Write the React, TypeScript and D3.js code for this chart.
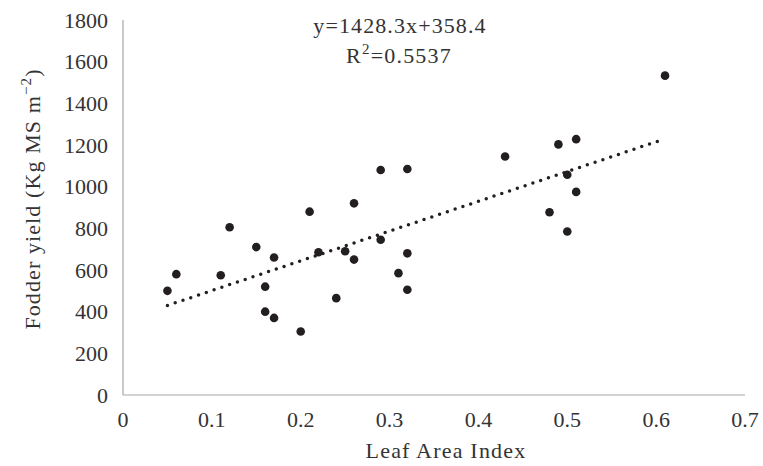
import React from 'react';
import * as d3 from 'd3';

// leaf area index (x) and fodder yield (y)
const lai = [
  0.05, 0.06, 0.11, 0.12, 0.15, 0.16, 0.16, 0.17, 0.17, 0.2,
  0.21, 0.22, 0.24, 0.25, 0.26, 0.26, 0.29, 0.29, 0.31, 0.32,
  0.32, 0.32, 0.43, 0.48, 0.49, 0.5, 0.5, 0.51, 0.51, 0.61,
];
const fodderYield = [
  500, 580, 575, 805, 710, 520, 400, 660, 370, 305,
  880, 685, 465, 690, 650, 920, 1080, 745, 585, 1085,
  680, 505, 1145, 877, 1203, 1057, 785, 1228, 975, 1533,
];
const xTicks = [0, 0.1, 0.2, 0.3, 0.4, 0.5, 0.6, 0.7];
const yTicks = [0, 200, 400, 600, 800, 1000, 1200, 1400, 1600, 1800];
const slope = 1428.3;
const intercept = 358.4;
const trendRange = [0.05, 0.61];

const W = 763;
const H = 466;
const margin = { top: 20, right: 18, bottom: 71, left: 123 };
const font = '"Liberation Serif", "Times New Roman", serif';
const textColor = '#333';

export default function App() {
  const x = d3.scaleLinear().domain([0, 0.7]).range([margin.left, W - margin.right]);
  const y = d3.scaleLinear().domain([0, 1800]).range([H - margin.bottom, margin.top]);

  const points = lai.map((v, i) => [v, fodderYield[i]] as [number, number]);
  const trend = d3.line<number>()
    .x((d) => x(d))
    .y((d) => y(slope * d + intercept));

  const x0 = x(0);
  const y0 = y(0);

  return (
    <svg width={W} height={H} style={{ position: 'absolute', left: 0, top: 0, background: '#fff' }}
      fontFamily={font} fontSize={22} fill={textColor}>
      {/* axes */}
      <line x1={x0} x2={x(0.7)} y1={y0} y2={y0} stroke="#a6a6a6" strokeWidth={1.2} />
      <line x1={x0} x2={x0} y1={y0} y2={y(1800)} stroke="#a6a6a6" strokeWidth={1.2} />

      {yTicks.map((t) => (
        <text key={'y' + t} x={108} y={y(t) + 7.5} textAnchor="end">{t}</text>
      ))}
      {xTicks.map((t) => (
        <text key={'x' + t} x={x(t)} y={427} textAnchor="middle">{t}</text>
      ))}

      <text x={446} y={458} textAnchor="middle" letterSpacing={1.2}>Leaf Area Index</text>
      <text transform="translate(40,199) rotate(-90)" textAnchor="middle" letterSpacing={1.1}>
        Fodder yield (Kg MS m<tspan fontSize={15} dy={-9}>−2</tspan><tspan dy={9}>)</tspan>
      </text>

      {/* trend line */}
      <path d={trend(trendRange) || ''} fill="none" stroke="#231f20" strokeWidth={3.5}
        strokeLinecap="round" strokeDasharray="0 8.2" />

      {points.map((p, i) => (
        <circle key={i} cx={x(p[0])} cy={y(p[1])} r={4.3} fill="#231f20" />
      ))}

      <text x={400} y={33} textAnchor="middle" letterSpacing={1.1}>y=1428.3x+358.4</text>
      <text x={399} y={63} textAnchor="middle" letterSpacing={1.2}>
        R<tspan fontSize={15} dy={-9}>2</tspan><tspan dy={9}>=0.5537</tspan>
      </text>
    </svg>
  );
}
